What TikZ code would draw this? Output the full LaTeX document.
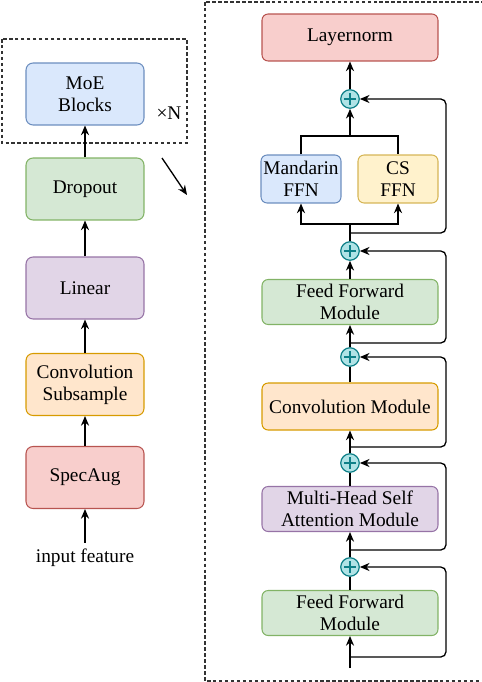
\documentclass[tikz,border=0pt]{standalone}
\usepackage{fontspec}
\setmainfont{Liberation Serif}
\usepackage{tikz}
\usetikzlibrary{arrows.meta}

\definecolor{bluefill}{HTML}{DAE8FC}
\definecolor{blueline}{HTML}{6C8EBF}
\definecolor{greenfill}{HTML}{D5E8D4}
\definecolor{greenline}{HTML}{82B366}
\definecolor{purplefill}{HTML}{E1D5E7}
\definecolor{purpleline}{HTML}{9673A6}
\definecolor{orangefill}{HTML}{FFE6CC}
\definecolor{orangeline}{HTML}{D79B00}
\definecolor{redfill}{HTML}{F8CECC}
\definecolor{redline}{HTML}{B85450}
\definecolor{yellowfill}{HTML}{FFF2CC}
\definecolor{yellowline}{HTML}{D6B656}
\definecolor{tealfill}{HTML}{B0E3E6}
\definecolor{tealline}{HTML}{0E8088}

\begin{document}
\begin{tikzpicture}[x=0.02cm, y=-0.02cm,
    font=\fontsize{11}{12.5}\selectfont,
    box/.style={draw, rounded corners=4pt, line width=0.6pt, align=center, inner sep=1pt},
    leftbox/.style={box, minimum width=2.36cm, minimum height=1.24cm},
    widebox/.style={box, rounded corners=3.5pt, minimum width=3.52cm, minimum height=0.9cm},
    ffnbox/.style={box, rounded corners=3.5pt, minimum width=1.6cm, minimum height=0.96cm},
    arr/.style={-{Stealth[length=5.5pt, width=4.6pt]}, line width=0.75pt},
    wire/.style={line width=0.75pt},
    loopback/.style={arr, rounded corners=3pt},
    dashframe/.style={draw=black!80, dash pattern=on 2pt off 1.4pt, line width=0.7pt},
    adder/.style={circle, draw=tealline, fill=tealfill, line width=0.7pt,
        minimum size=0.37cm, inner sep=0pt,
        path picture={
            \draw[line width=0.6pt] ([xshift=-0.12cm]path picture bounding box.center)
                -- ([xshift=0.12cm]path picture bounding box.center);
            \draw[line width=0.6pt] ([yshift=-0.12cm]path picture bounding box.center)
                -- ([yshift=0.12cm]path picture bounding box.center);
        }}]
    \useasboundingbox (0,0) rectangle (482,682);
    \clip (0,0) rectangle (482,682);

    % encoder stack
    \node[leftbox, fill=bluefill, draw=blueline] at (85, 94) (moe) {MoE\\Blocks};
    \node[leftbox, fill=greenfill, draw=greenline] at (85, 189) (dropout) {Dropout};
    \node[leftbox, fill=purplefill, draw=purpleline] at (85, 288) (linear) {Linear};
    \node[leftbox, fill=orangefill, draw=orangeline] at (85, 384.5) (convsub) {Convolution\\Subsample};
    \node[leftbox, fill=redfill, draw=redline] at (85, 477.5) (specaug) {SpecAug};
    \node at (85, 558) (input) {input feature};
    \node at (169, 113) (times) {×N};
    \draw[dashframe] (2, 39) rectangle (187, 143);

    \draw[arr] (input) -- (specaug);
    \draw[arr] (specaug) -- (convsub);
    \draw[arr] (convsub) -- (linear);
    \draw[arr] (linear) -- (dropout);
    \draw[arr] (dropout) -- (moe);

    % zoom arrow
    \coordinate (zoomfrom) at (162, 158);
    \coordinate (zoomto) at (187, 195);
    \draw[arr] (zoomfrom) -- (zoomto);

    % one MoE block
    \draw[dashframe] (205, 2) rectangle (520, 681);
    \node[widebox, minimum height=0.94cm, fill=redfill, draw=redline] at (350, 37.5) (layernorm) {Layernorm};
    \node[adder] at (350, 99) (add1) {};
    \node[ffnbox, fill=bluefill, draw=blueline] at (301, 179) (mffn) {Mandarin\\FFN};
    \node[ffnbox, fill=yellowfill, draw=yellowline] at (398, 179) (csffn) {CS\\FFN};
    \node[adder] at (350, 251) (add2) {};
    \node[widebox, fill=greenfill, draw=greenline] at (350, 302) (ff1) {Feed Forward\\Module};
    \node[adder] at (350, 357) (add3) {};
    \node[widebox, minimum height=0.94cm, fill=orangefill, draw=orangeline] at (350, 406.5) (conv) {Convolution Module};
    \node[adder] at (350, 463) (add4) {};
    \node[widebox, fill=purplefill, draw=purpleline] at (350, 509) (mhsa) {Multi-Head Self\\Attention Module};
    \node[adder] at (350, 567) (add5) {};
    \node[widebox, fill=greenfill, draw=greenline] at (350, 613) (ff2) {Feed Forward\\Module};

    \coordinate (in) at (350, 668);
    \coordinate (join) at (350, 136);
    \coordinate (split) at (350, 224);
    \coordinate (b1) at (350, 233);
    \coordinate (b2) at (350, 343);
    \coordinate (b3) at (350, 447);
    \coordinate (b4) at (350, 550);
    \coordinate (b5) at (350, 657);
    \coordinate (r1) at (446, 99);
    \coordinate (r2) at (446, 251);
    \coordinate (r3) at (446, 357);
    \coordinate (r4) at (446, 463);
    \coordinate (r5) at (446, 567);

    % main path
    \draw[arr] (in) -- (ff2);
    \draw[wire] (ff2) -- (add5);
    \draw[arr] (add5) -- (mhsa);
    \draw[wire] (mhsa) -- (add4);
    \draw[arr] (add4) -- (conv);
    \draw[wire] (conv) -- (add3);
    \draw[arr] (add3) -- (ff1);
    \draw[arr] (ff1) -- (add2);
    \draw[wire] (add2) -- (split);
    \draw[arr] (split) -| (mffn.south);
    \draw[arr] (split) -| (csffn.south);
    \draw[wire] (mffn.north) |- (join) -| (csffn.north);
    \draw[arr] (join) -- (add1);
    \draw[arr] (add1) -- (layernorm);

    % residuals
    \draw[loopback] (b1) -| (r1) -- (add1);
    \draw[loopback] (b2) -| (r2) -- (add2);
    \draw[loopback] (b3) -| (r3) -- (add3);
    \draw[loopback] (b4) -| (r4) -- (add4);
    \draw[loopback] (b5) -| (r5) -- (add5);
\end{tikzpicture}
\end{document}
